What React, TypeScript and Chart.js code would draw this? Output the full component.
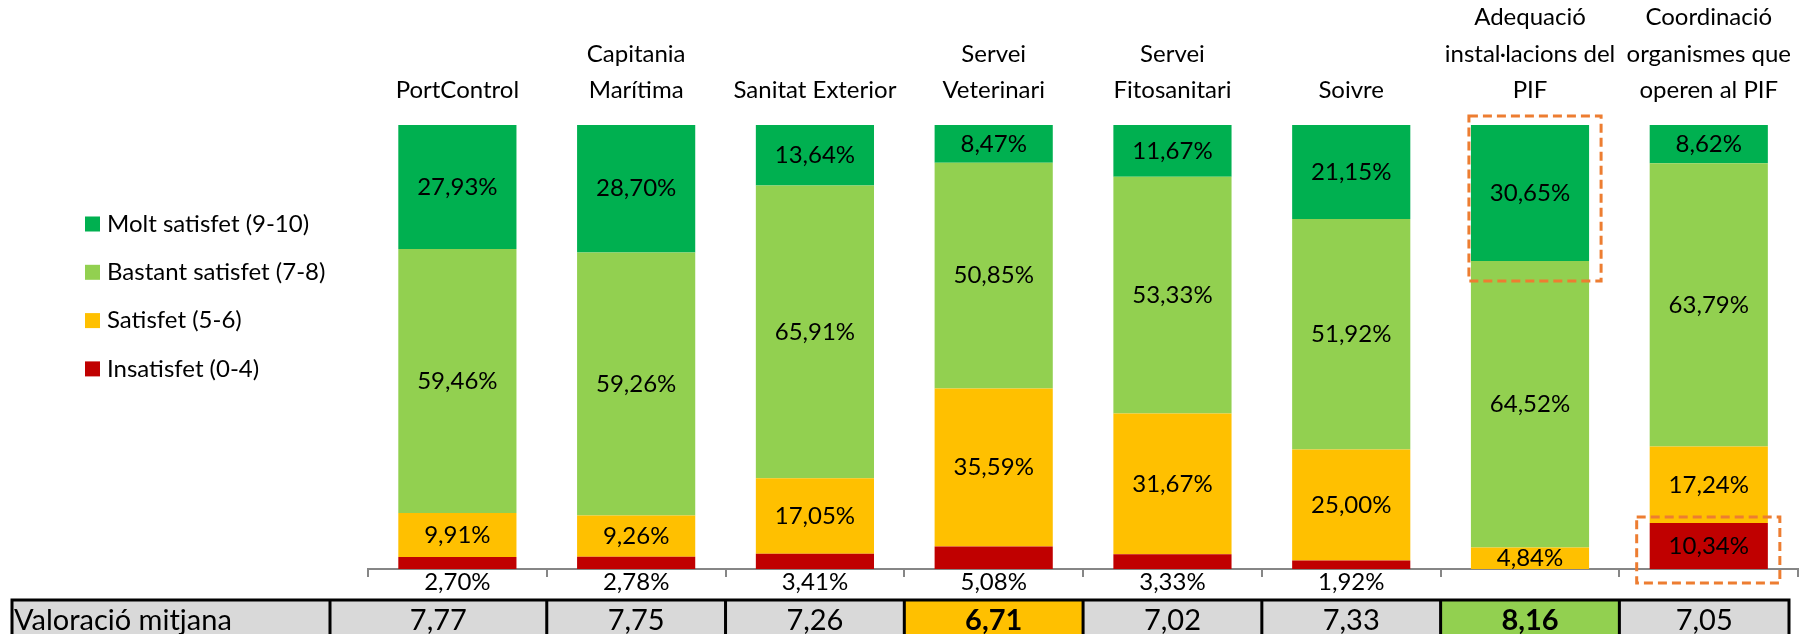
import { useEffect, useRef } from 'react';
import { Chart, registerables } from 'chart.js';

Chart.register(...registerables);

// ---------- data ----------
const categories: string[][] = [
  ['PortControl'],
  ['Capitania', 'Marítima'],
  ['Sanitat Exterior'],
  ['Servei', 'Veterinari'],
  ['Servei', 'Fitosanitari'],
  ['Soivre'],
  ['Adequació', 'instal·lacions del', 'PIF'],
  ['Coordinació', 'organismes que', 'operen al PIF'],
];
const seriesNames = ['Insatisfet (0-4)', 'Satisfet (5-6)', 'Bastant satisfet (7-8)', 'Molt satisfet (9-10)'];
const seriesColors = ['#C00000', '#FFC000', '#92D050', '#00B050'];
const insatisfet = [2.7, 2.78, 3.41, 5.08, 3.33, 1.92, 0, 10.34];
const satisfet = [9.91, 9.26, 17.05, 35.59, 31.67, 25.0, 4.84, 17.24];
const bastantSatisfet = [59.46, 59.26, 65.91, 50.85, 53.33, 51.92, 64.52, 63.79];
const moltSatisfet = [27.93, 28.7, 13.64, 8.47, 11.67, 21.15, 30.65, 8.62];
const tableTitle = 'Valoració mitjana';
const meanScores = [7.77, 7.75, 7.26, 6.71, 7.02, 7.33, 8.16, 7.05];
// highlighted segments: [datasetIndex, categoryIndex]
const highlighted: [number, number][] = [
  [3, 6],
  [0, 7],
];

const FONT = 'Lato, "Noto Sans", sans-serif';
const fmtPct = (v: number) => v.toFixed(2).replace('.', ',') + '%';
const fmtNum = (v: number) => v.toFixed(2).replace('.', ',');

const labelsPlugin = {
  id: 'segLabels',
  afterDatasetsDraw(chart: any) {
    const { ctx, chartArea } = chart;
    ctx.save();
    ctx.font = `24px ${FONT}`;
    ctx.fillStyle = '#000';
    ctx.textAlign = 'center';
    ctx.textBaseline = 'middle';
    chart.data.datasets.forEach((ds: any, i: number) => {
      const meta = chart.getDatasetMeta(i);
      meta.data.forEach((bar: any, j: number) => {
        const v = ds.data[j];
        if (!v) return;
        const p = bar.getProps(['x', 'y', 'base'], true);
        let ty = (p.y + p.base) / 2;
        if (i === 0 && v < 6) ty = chartArea.bottom + 13;
        ctx.fillText(fmtPct(v), p.x, ty);
      });
    });
    // dashed highlight boxes
    ctx.strokeStyle = '#ED7D31';
    ctx.lineWidth = 3;
    ctx.setLineDash([9, 5]);
    highlighted.forEach(([di, ci]) => {
      const bar: any = chart.getDatasetMeta(di).data[ci];
      const p = bar.getProps(['x', 'y', 'base', 'width'], true);
      const l = p.x - p.width / 2;
      const r = p.x + p.width / 2;
      if (di === 3) {
        ctx.strokeRect(l - 2, p.y - 9, r - l + 14, p.base - p.y + 29);
      } else {
        ctx.strokeRect(l - 13, p.y - 6, r - l + 25, p.base - p.y + 20);
      }
    });
    ctx.restore();
  },
};

const legendPlugin = {
  id: 'sideLegend',
  afterDraw(chart: any) {
    const { ctx } = chart;
    ctx.save();
    ctx.font = `24px ${FONT}`;
    ctx.textAlign = 'left';
    ctx.textBaseline = 'middle';
    const ds = chart.data.datasets.slice().reverse();
    ds.forEach((d: any, k: number) => {
      const cy = 224 + k * 48.3;
      ctx.fillStyle = d.backgroundColor;
      ctx.fillRect(85, cy - 7.5, 15, 15);
      ctx.fillStyle = '#000';
      ctx.fillText(d.label, 107, cy);
    });
    ctx.restore();
  },
};

const tablePlugin = {
  id: 'meanTable',
  afterDraw(chart: any) {
    const { ctx } = chart;
    const xs = chart.scales.x;
    const step = xs.getPixelForValue(1) - xs.getPixelForValue(0);
    const top = 600;
    const bottom = 640;
    const labelL = 12;
    const labelR = 330;
    const lastR = 1789;
    const n = meanScores.length;
    const minV = Math.min(...meanScores);
    const maxV = Math.max(...meanScores);
    const edges: number[] = [];
    for (let j = 0; j <= n; j++) {
      if (j === 0) edges.push(labelR);
      else if (j === n) edges.push(lastR);
      else edges.push(xs.getPixelForValue(j) - step / 2);
    }
    ctx.save();
    ctx.fillStyle = '#D9D9D9';
    ctx.fillRect(labelL, top, lastR - labelL, bottom - top);
    for (let j = 0; j < n; j++) {
      const v = meanScores[j];
      if (v === minV) ctx.fillStyle = '#FFC000';
      else if (v === maxV) ctx.fillStyle = '#92D050';
      else continue;
      ctx.fillRect(edges[j], top, edges[j + 1] - edges[j], bottom - top);
    }
    ctx.strokeStyle = '#000';
    ctx.lineWidth = 3;
    ctx.beginPath();
    ctx.moveTo(labelL - 1.5, top);
    ctx.lineTo(lastR + 1.5, top);
    [labelL, ...edges].forEach((x) => {
      ctx.moveTo(x, top);
      ctx.lineTo(x, bottom);
    });
    ctx.stroke();
    ctx.fillStyle = '#000';
    ctx.textBaseline = 'middle';
    ctx.textAlign = 'left';
    ctx.font = `29px ${FONT}`;
    ctx.fillText(tableTitle, labelL + 2, 621);
    ctx.textAlign = 'center';
    for (let j = 0; j < n; j++) {
      const v = meanScores[j];
      const bold = v === minV || v === maxV;
      ctx.font = `${bold ? 'bold ' : ''}29px ${FONT}`;
      ctx.fillText(fmtNum(v), (edges[j] + edges[j + 1]) / 2, 621);
    }
    ctx.restore();
  },
};

export default function App() {
  const ref = useRef<HTMLCanvasElement>(null);
  useEffect(() => {
    if (!ref.current) return;
    Chart.defaults.font.family = FONT;
    const seriesData = [insatisfet, satisfet, bastantSatisfet, moltSatisfet];
    const chart = new Chart(ref.current, {
      type: 'bar',
      data: {
        labels: categories,
        datasets: seriesNames.map((name, i) => ({
          label: name,
          data: seriesData[i],
          backgroundColor: seriesColors[i],
          borderWidth: 0,
          barPercentage: 0.661,
          categoryPercentage: 1,
          xAxisID: 'x',
        })),
      },
      options: {
        responsive: false,
        animation: false,
        devicePixelRatio: 1,
        layout: { padding: { left: 368, right: 0, top: 0, bottom: 0 } },
        plugins: {
          legend: { display: false },
          tooltip: { enabled: false },
        },
        scales: {
          x: {
            type: 'category',
            position: 'bottom',
            stacked: true,
            offset: true,
            border: { display: true, color: '#868686', width: 2 },
            grid: {
              display: true,
              offset: true,
              drawOnChartArea: false,
              drawTicks: true,
              tickLength: 8,
              color: '#868686',
              lineWidth: 2,
            },
            ticks: { display: false },
            afterFit: (s: any) => {
              s.height = 65;
            },
          },
          x2: {
            type: 'category',
            position: 'top',
            offset: true,
            border: { display: false },
            grid: { display: false, drawTicks: false },
            ticks: {
              padding: 16,
              color: '#000',
              font: { size: 24, family: FONT, lineHeight: 1.53 },
              maxRotation: 0,
              autoSkip: false,
            },
            afterFit: (s: any) => {
              s.height = 125;
            },
          },
          y: {
            display: false,
            stacked: true,
            min: 0,
            max: 100,
          },
        },
      },
      plugins: [labelsPlugin, legendPlugin, tablePlugin],
    });
    return () => chart.destroy();
  }, []);
  return (
    <div style={{ position: 'absolute', left: 0, top: 0, width: 1807, height: 634, background: '#fff' }}>
      <canvas ref={ref} width={1807} height={634} style={{ display: 'block' }} />
    </div>
  );
}
